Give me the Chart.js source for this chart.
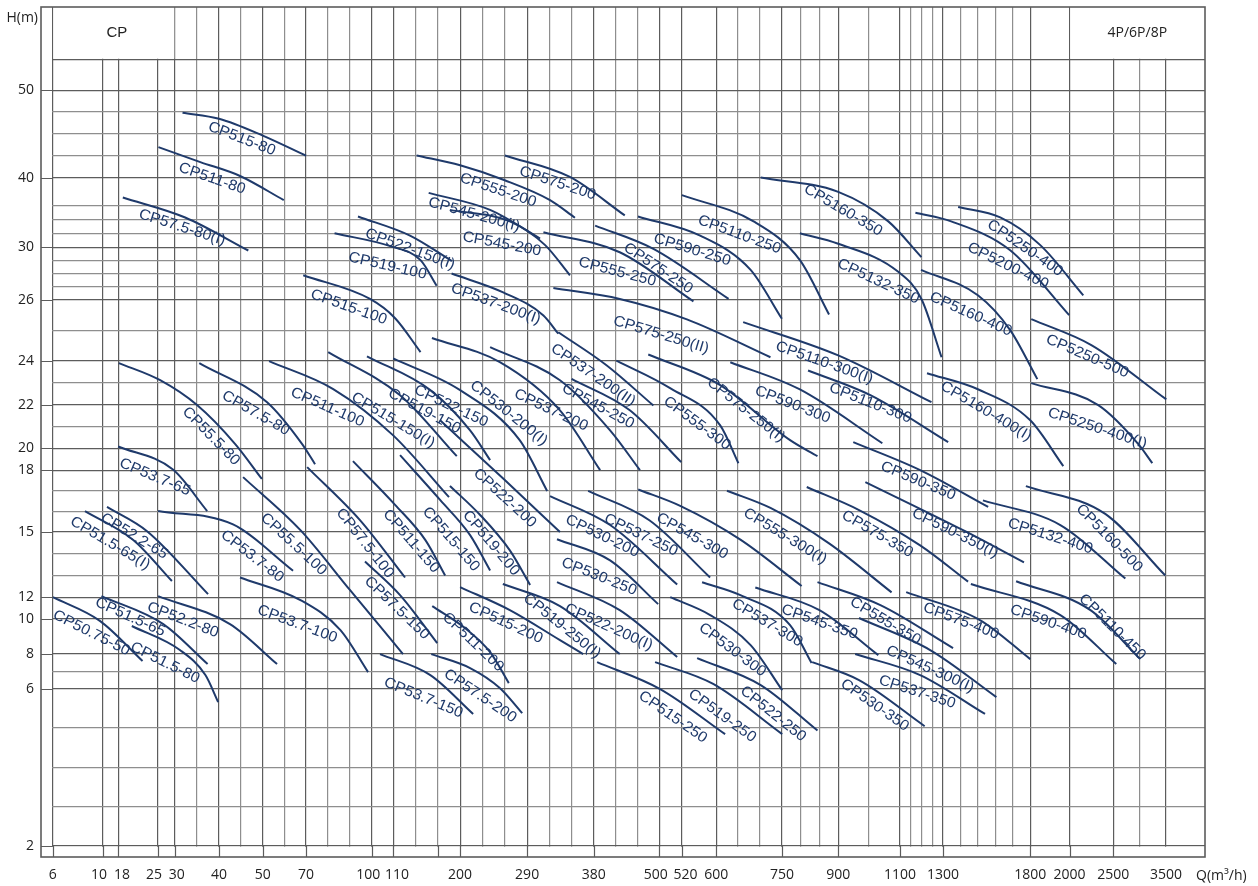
<!DOCTYPE html>
<html><head><meta charset="utf-8">
<script src="https://cdn.jsdelivr.net/npm/chart.js@4.4.1/dist/chart.umd.min.js"></script>
<style>html,body{margin:0;padding:0;background:#fff}#wrap{width:1258px;height:886px;position:relative}</style>
</head><body><div id="wrap"><canvas id="c"></canvas></div>
<script>
// ---------------- DATA ----------------
const xTickLabels = [6,10,18,25,30,40,50,70,100,110,200,290,380,500,520,600,750,900,1100,1300,1800,2000,2500,3500];
const xMinorTicks = [35,45,60,80,90,140,170,230,260,320,350,420,460,650,700,800,850,1000,1150,1200,1250,1400,1500,1600,1700,3000];
const yTickLabels = [2,6,8,10,12,15,18,20,22,24,26,30,40,50];
const yMinorTicks = [3,4,5,7,13,14,16,17,21,23,25,27,28,29,32,34,36,42.5,45,47.5];
const headerH = 53.7;

const curveNames = [
"CP515-80","CP511-80","CP57.5-80(I)","CP522-150(I)","CP519-100","CP515-100",
"CP555-200","CP575-200","CP545-200(I)","CP545-200","CP537-200(I)","CP537-200(II)",
"CP555-250","CP575-250","CP590-250","CP5110-250","CP5160-350","CP5132-350",
"CP575-250(II)","CP5110-300(I)","CP5110-300","CP590-300","CP575-250(I)","CP555-300",
"CP545-250","CP537-200","CP530-200(I)","CP522-150","CP519-150","CP515-150(I)",
"CP511-100","CP57.5-80","CP55.5-80","CP53.7-65","CP52.2-65","CP51.5-65(I)",
"CP53.7-80","CP55.5-100","CP57.5-100","CP511-150","CP515-150","CP519-200",
"CP522-200","CP57.5-150","CP53.7-100","CP52.2-80","CP51.5-65","CP51.5-80",
"CP50.75-50","CP53.7-150","CP57.5-200","CP511-200","CP515-200","CP519-250(I)",
"CP522-200(I)","CP530-250","CP530-200","CP537-250","CP545-300","CP555-300(I)",
"CP575-350","CP590-350","CP590-350(I)","CP5132-400","CP5160-500","CP530-300",
"CP537-300","CP545-350","CP555-350","CP575-400","CP590-400","CP5110-450",
"CP545-300(I)","CP537-350","CP530-350","CP515-250","CP519-250","CP522-250",
"CP5250-400","CP5200-400","CP5160-400","CP5250-500","CP5160-400(I)","CP5250-400(I)"];

const curveQ = [
[31.7,40,50,70],[25.2,35.75,44.8,59.7],[18.8,32.3,46.7],[93.7,132.4,188.9],[83,108.5,146.6,168.3],[68.7,99.2,112.3,146.6],
[141.3,200,260,320.9,354.5],[260,347.7,436.6],[157.6,240.2,307.5],[186.3,266.8,314.3,347.7],[188.5,257.8,312,332.1],[332.1,403.7,488.9],
[312,427.4,547],[382.4,489,628.3],[460.7,562.7,678.6,750],[520,685.3,798,875.6],[701.6,900,1062.3,1200],[798,900,1094.6,1200,1293.5],
[325.4,427.4,531.7,723.9],[661.6,900,1246.7],[819.7,1004.2,1330],[632.2,798,1043],[479.5,609.2,771.8,844.8],[421.3,509.5,609.2,650.7],
[350,445.8,519.4],[240.3,334.3,409.7,464.3],[162,253.4,334.3,391.5],[109.9,200,280,317],[97.8,159.8,213.4,240.3],[80.1,119,195.5],
[52.9,82.4,109.9,185],[35.5,52,68.2,74.1],[18.1,25.7,35,43.7,49.8],[17.9,29.4,37.3],[12.2,23.1,37.5],[8.58,20.6,29.1],
[25.1,43.2,64],[45.5,67.4,90,123],[70.5,94.6,125.7],[91.4,112.3,153.2,179.8],[119,173,213.4,240.3],[186.3,226.9,266.8,294],
[173,260,334.3],[96.9,119,169.1],[44.8,67.4,85.7,98.3],[25.1,42.5,56.6],[9.9,26.6,37.4],[20.4,31.1,36.9,39.8],
[6.02,9.8,22.3],[103.8,159.8,217.5],[161.1,213.4,253.3,283.4],[162.4,206.7,240.3,265.4],[200,266.8,334.3,365.6],[257.4,334.3,427.4],
[330.3,427.4,515.8],[330.3,409.7,497.6],[320.9,409.7,515.8],[372.3,481.5,585.8],[461.1,518.5,655.3,802.6],[624.6,723.9,875.6,1073],
[816.2,967.5,1194,1444],[948.8,1194,1559],[988,1427,1764],[1529,1953,2729],[1775,2408,3487],[509.6,586,678.6,750.8],
[567.1,655.3,771.8,829.1],[689.3,850,1030],[844.8,1036.7,1358],[1129.2,1511.8,1800],[1460,1953,2557],[1719,2239,3013],
[967.5,1240.6,1606],[955,1194,1541],[830.6,967.5,1215],[386,500.6,620.4],[492,593,750.8],[555.6,701.6,844.8],
[1387,1628,1851,2157],[1172,1347,1685,1998],[1198,1500,1685,1836],[1805,2249,3506],[1226,1500,1800,1968],[1805,2328,2975,3240]];

const curveH = [
[47.43,46.74,44.81,42.5],[43.48,41.77,40.18,36.76],[37.14,34.27,29.75],[34.41,31.66,28.95],[32,30.15,29.02,27.08],[27.87,26.07,25.4,24.29],
[42.53,41.4,39.61,36.76,34.23],[42.53,40.07,34.56],[37.8,35.36,31.25],[35.36,33.71,30.3,27.87],[28,26.57,25.49,24.89],[24.94,23.79,21.97],
[32.15,29.62,25.95],[33.1,29.87,26.08],[34.41,31.66,28.28,25.38],[37.47,33.71,29.02,25.52],[40,37.94,33.71,29.25],[32,30.5,28.13,26.07,24.12],
[26.9,26.07,25.36,24.12],[25.27,24.18,22.12],[23.56,22.44,20.29],[23.94,22.7,20.24],[24.21,22.9,20.38,19.29],[24.01,22.76,21.06,18.64],
[23.18,21.75,18.74],[24.45,23.12,20.83,18],[24.75,23.94,21.75,18],[24.08,22.67,20.38,16.99],[24.15,22.67,20.83,18.92],[24.29,22.44,19.29],
[23.99,22.72,20.6,16.69],[23.9,22.12,20.2,18.55],[23.9,23.12,21.99,20.2,17.57],[20.09,18.05,16.01],[16.21,15.03,12.15],[16.01,14.64,12.75],
[16.01,15.36,13.22],[17.66,15.08,12.34,8],[18.28,15.57,12.91],[18.83,16.31,14.62,13],[19.38,16.55,14.85,13.23],[17.23,15.82,14.15,12.57],
[21.29,17.52,14.99],[13.64,12.1,8.62],[12.91,11.75,9.36,6.97],[12.06,9.7,7.43],[12.06,9.7,7.43],[9.59,8.23,6.8,5.66],
[12.01,9.87,7.6],[8,6.8,5.35],[8,7.2,6.06,5.37],[11.19,9.47,8.11,6.34],[12.47,10.81,8.79,8],[12.61,11.19,8],
[12.7,10.81,7.83],[14.66,13.69,11.37],[16.74,15.33,12.59],[16.99,15.56,12.91],[17.06,16.26,14.64,12.52],[17,16.16,14.47,12.23],
[17.18,16.06,14.38,12.72],[20.29,18,16.21],[17.42,15.03,13.6],[16.53,15.33,12.86],[17.22,15.87,13],[12.01,10.35,8.51,5.97],
[12.69,12.1,9.64,7.49],[12.45,10.81,7.94],[12.7,11.28,8.34],[12.24,9.93,7.71],[12.61,10.35,7.43],[12.74,10.81,7.71],
[10.07,8.23,5.79],[8,6.8,5.35],[7.54,6.51,5.03],[7.54,6,4.83],[7.54,6.29,4.83],[7.77,6.23,4.92],
[35.77,34.27,30.3,26.35],[34.95,33.71,29.77,25.5],[28.28,26.35,25.01,23.17],[25.37,24.52,22.25],[23.44,22.71,21.29,18.37],[22.99,21.99,20.2,18.65]];

const labelQ = [45.2,38.4,31.6,132.4,107.3,89.5, 251.1,331,218.8,256,247.9,379, 422.8,497.6,544,653,916,1030,
501.5,862.8,1004.2,778.4,668,555.6, 387.8,322.3,265.4,187.8,151.9,109.9, 79.7,48.4,38.2,24.5,20.8,13.8,
47.6,64.3,96.9,134.1,187.8,241.6, 260,114.8,66,31.8,20.1,27.1, 9.1,150.6,226.9,217.4,261.3,337,
407.3,389.6,395.3,466.1,544,758.7, 1027,1185,1370,1902,2454,636.9, 716.6,850,1052.6,1404,1892,2489,
1240.6,1180.5,1018.6,512,613.8,730.1, 1770,1673,1460,2203,1547,2318];
const labelH = [44.43,39.86,32.83,29.85,28.57,25.76, 38.18,39.18,34.68,30.45,25.87,23.35, 28.13,28.4,29.8,31.8,35.3,27.4,
24.85,23.92,22.08,22.01,21.76,21.15, 21.94,21.76,21.62,21.94,21.71,21.29, 21.89,21.62,20.56,17.66,14.8,14.48,
13.88,14.43,14.48,14.57,14.66,14.48, 16.64,11.0,9.7,9.93,10.16,7.5, 9.19,5.77,5.82,8.68,9.76,9.59,
9.53,12.95,14.8,14.85,14.8,14.8, 14.9,17.47,14.94,14.8,14.71,8.23, 9.76,9.81,9.87,9.87,9.81,9.53,
7.14,5.92,5.58,5.27,5.3,5.35, 29.93,28.57,25.53,24.15,21.71,20.92];

// ---------------- SCALE ----------------
class PiecewiseScale extends Chart.LinearScale {
  determineDataLimits(){ this.min = this.options.min; this.max = this.options.max; }
  buildTicks(){ return this.options.tickValues.map(v => ({value: v})); }
  _frac(v){
    const s = this.options.stops, L = s[s.length-1][1];
    let i = 0;
    while (i < s.length-2 && v > s[i+1][0]) i++;
    const t = (v - s[i][0]) / (s[i+1][0] - s[i][0]);
    return (s[i][1] + t*(s[i+1][1]-s[i][1])) / L;
  }
  getPixelForValue(v){
    const f = this._frac(v);
    return this.isHorizontal() ? this.left + f*this.width : this.bottom - f*this.height;
  }
  getValueForPixel(p){
    const s = this.options.stops, L = s[s.length-1][1];
    const pos = (this.isHorizontal() ? (p - this.left)/this.width : (this.bottom - p)/this.height) * L;
    let i = 0;
    while (i < s.length-2 && pos > s[i+1][1]) i++;
    const t = (pos - s[i][1]) / (s[i+1][1] - s[i][1]);
    return s[i][0] + t*(s[i+1][0]-s[i][0]);
  }
}
PiecewiseScale.id = 'piecewise';
PiecewiseScale.defaults = {};
Chart.register(PiecewiseScale);

const NAVY = '#1f3a6b';
const MAJOR = '#5c5c5c', MINOR = '#8e8e8e';
const isMajorX = v => xTickLabels.includes(v);
const isMajorY = v => yTickLabels.includes(v) || v === headerH;
const xLabelText = v => {
  const s = String(v);
  if ([10,25,100,500].includes(v)) return s + '  ';
  if ([18,110,520].includes(v)) return '  ' + s;
  if (v === 30) return ' ' + s;
  return s;
};

const framePlugin = {
  id: 'frame',
  beforeDatasetsDraw(chart){
    const {ctx, chartArea: ca} = chart;
    const xs = chart.scales.x, ys = chart.scales.y;
    const x6 = xs.getPixelForValue(6), y2 = ys.getPixelForValue(2), yh = ys.getPixelForValue(headerH);
    ctx.save();
    ctx.fillStyle = '#fff';
    ctx.fillRect(ca.left, ca.top, x6 - ca.left - 0.7, ca.bottom - ca.top);
    ctx.fillRect(ca.left, y2 + 0.7, ca.right - ca.left, ca.bottom - y2);
    const x30 = xs.getPixelForValue(30), x2000 = xs.getPixelForValue(2000);
    ctx.fillRect(x6 + 0.7, ca.top, x30 - x6 - 1.4, yh - ca.top - 0.7);
    ctx.fillRect(x2000 + 0.7, ca.top, ca.right - x2000, yh - ca.top - 0.7);
    ctx.strokeStyle = MAJOR; ctx.lineWidth = 1.2;
    ctx.beginPath();
    yTickLabels.forEach(v => { const y = Math.round(ys.getPixelForValue(v)) + 0.5; ctx.moveTo(ca.left, y); ctx.lineTo(x6, y); });
    xTickLabels.concat([170]).filter(v => v !== 3500).forEach(v => { const x = Math.round(xs.getPixelForValue(v)) + 0.5; ctx.moveTo(x, y2); ctx.lineTo(x, ca.bottom); });
    ctx.stroke();
    ctx.lineWidth = 1.6;
    ctx.strokeRect(ca.left, ca.top, ca.right - ca.left, ca.bottom - ca.top);
    ctx.fillStyle = '#222';
    ctx.textAlign = 'center'; ctx.textBaseline = 'middle';
    ctx.font = '15px "Liberation Sans", Arial, sans-serif';
    ctx.fillText('CP', (x6 + x30)/2 + 3, (ca.top + yh)/2);
    ctx.font = '14px "Open Sans", sans-serif';
    ctx.fillText('4P/6P/8P', (x2000 + ca.right)/2, (ca.top + yh)/2);
    ctx.restore();
  },
  afterDatasetsDraw(chart){
    const ctx = chart.ctx, xs = chart.scales.x, ys = chart.scales.y;
    ctx.save();
    ctx.fillStyle = NAVY;
    ctx.font = '15px "Liberation Sans", Arial, sans-serif';
    ctx.textAlign = 'center'; ctx.textBaseline = 'middle';
    curveNames.forEach((name, i) => {
      const lx = xs.getPixelForValue(labelQ[i]), ly = ys.getPixelForValue(labelH[i]);
      const pts = chart.getDatasetMeta(i).data;
      let a = pts[0], b = pts[1];
      for (let k = 0; k < pts.length-1; k++) {
        if (lx >= pts[k].x && lx <= pts[k+1].x) { a = pts[k]; b = pts[k+1]; break; }
        if (lx > pts[k+1].x) { a = pts[k]; b = pts[k+1]; }
      }
      const ang = Math.atan2(b.y - a.y, b.x - a.x);
      ctx.save(); ctx.translate(lx, ly); ctx.rotate(ang); ctx.scale(1.05, 1);
      ctx.fillText(name, 0, 0);
      ctx.restore();
    });
    ctx.restore();
  },
  afterDraw(chart){
    const ctx = chart.ctx, ca = chart.chartArea;
    ctx.save();
    ctx.fillStyle = '#222';
    ctx.font = '14px "Open Sans", sans-serif';
    ctx.textBaseline = 'middle';
    ctx.textAlign = 'right';
    ctx.fillText('H(m)', ca.left - 3, 18);
    ctx.textAlign = 'left';
    ctx.fillText('Q(m³/h)', ca.right - 9, 876);
    ctx.restore();
  }
};

const datasets = curveNames.map((n, i) => ({
  label: n,
  data: curveQ[i].map((q, k) => ({x: q, y: curveH[i][k]})),
  borderColor: NAVY, borderWidth: 2, pointRadius: 0,
  cubicInterpolationMode: 'monotone', fill: false
}));

new Chart(document.getElementById('c'), {
  type: 'line',
  data: { datasets },
  options: {
    responsive: true, maintainAspectRatio: false, animation: false, events: [],
    layout: { padding: { left: 0, right: 53, top: 7, bottom: 0 } },
    plugins: { legend: { display: false }, tooltip: { enabled: false } },
    scales: {
      x: {
        type: 'piecewise', min: 5.06, max: 4240,
        stops: [[5.06,0],[6,11.7],[10,61.7],[18,77.3],[25,116.7],[30,134],[40,178],[50,221.7],[70,265],[100,330.7],[110,352.3],[200,419],[290,486],[380,552.7],[500,618.3],[520,640.7],[600,675],[750,740.7],[900,797],[1100,858.7],[1300,901.7],[1800,989],[2000,1028.3],[2500,1072],[3500,1124.7],[4240,1163.7]],
        tickValues: xTickLabels.concat(xMinorTicks).sort((a,b)=>a-b),
        afterFit: s => { s.height = 29; s.paddingLeft = 0; s.paddingRight = 0; },
        border: { display: false },
        grid: { drawTicks: false, lineWidth: 1.2, color: c => isMajorX(c.tick.value) ? MAJOR : MINOR },
        ticks: { autoSkip: false, maxRotation: 0, minRotation: 0, padding: 10, color: '#222',
          font: { family: '"Open Sans", sans-serif', size: 14 },
          callback: v => isMajorX(v) ? xLabelText(v) : '' }
      },
      y: {
        type: 'piecewise', min: 1.72, max: 60,
        stops: [[1.72,0],[2,11],[3,50.3],[4,89.7],[5,129.7],[6,168],[7,185.5],[8,203],[10,238.3],[12,259.7],[15,325.3],[18,387],[20,408.7],[22,452.3],[24,496.3],[26,557.3],[30,610],[40,679.7],[50,767],[60,850.3]],
        tickValues: yTickLabels.concat(yMinorTicks, [headerH]).sort((a,b)=>a-b),
        afterFit: s => { s.width = 41; s.paddingTop = 0; s.paddingBottom = 0; },
        border: { display: false },
        grid: { drawTicks: false, lineWidth: 1.2, color: c => isMajorY(c.tick.value) ? MAJOR : MINOR },
        ticks: { autoSkip: false, padding: 7, color: '#222',
          font: { family: '"Open Sans", sans-serif', size: 14 },
          callback: v => yTickLabels.includes(v) ? String(v) : '' }
      }
    }
  },
  plugins: [framePlugin]
});
</script></body></html>
